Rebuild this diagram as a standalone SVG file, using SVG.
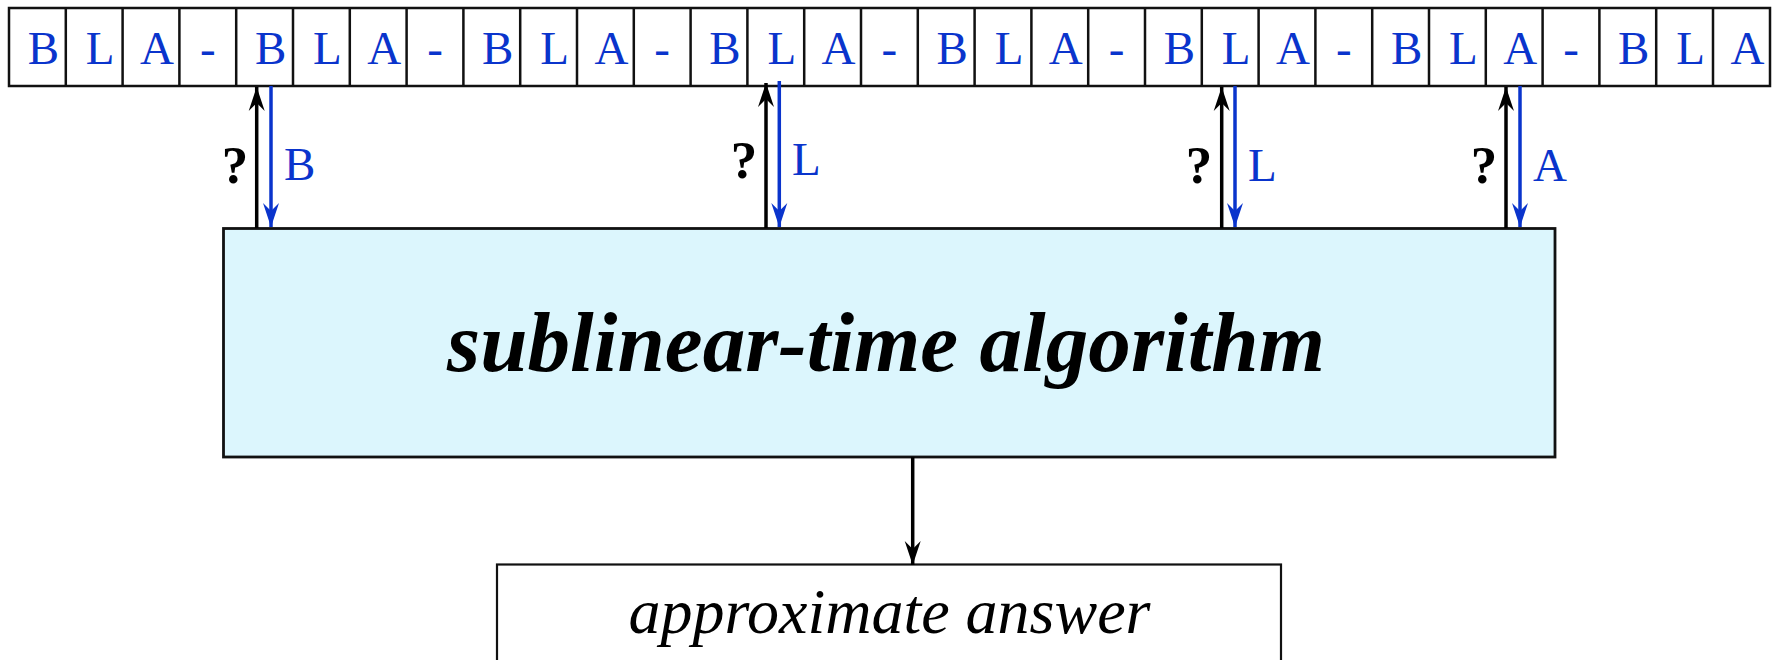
<svg xmlns="http://www.w3.org/2000/svg" width="1777" height="660" viewBox="0 0 1777 660">
<style>
.cell{fill:#ffffff;stroke:#111;stroke-width:2.5}
.ch{font-family:"Liberation Serif",serif;font-size:47px;fill:#0a34cc;text-anchor:middle}
.q{font-family:"Liberation Serif",serif;font-size:53px;font-weight:bold;fill:#000;text-anchor:middle}
.lb{font-family:"Liberation Serif",serif;font-size:47px;fill:#0a34cc}
.up{stroke:#000;stroke-width:3.5;fill:none}
.dn{stroke:#0a34cc;stroke-width:3.5;fill:none}
</style>
<defs>
<marker id="hb" viewBox="-26 -9 28 18" markerWidth="28" markerHeight="18" refX="0" refY="0" orient="auto" markerUnits="userSpaceOnUse">
<path d="M0,0 L-24,-8 L-16,0 L-24,8 z" fill="#000"/>
</marker>
<marker id="hu" viewBox="-26 -9 28 18" markerWidth="28" markerHeight="18" refX="0" refY="0" orient="auto" markerUnits="userSpaceOnUse">
<path d="M0,0 L-24,-8 L-16,0 L-24,8 z" fill="#0a34cc"/>
</marker>
</defs>
<g id="tape">
<rect class="cell" x="9" y="8" width="1761" height="78"/>
<g stroke="#111" stroke-width="2.5">
<path d="M65.8,8V86M122.6,8V86M179.4,8V86M236.2,8V86M293,8V86M349.8,8V86M406.6,8V86M463.4,8V86M520.2,8V86M577,8V86M633.8,8V86M690.6,8V86M747.4,8V86M804.2,8V86M861,8V86M917.8,8V86M974.6,8V86M1031.4,8V86M1088.2,8V86M1145,8V86M1201.8,8V86M1258.6,8V86M1315.4,8V86M1372.2,8V86M1429,8V86M1485.8,8V86M1542.6,8V86M1599.4,8V86M1656.2,8V86M1713,8V86"/>
</g>
<g class="ch">
<text x="43.4" y="64">B</text><text x="100.2" y="64">L</text><text x="157" y="64">A</text><text x="207.8" y="64">-</text>
<text x="270.6" y="64">B</text><text x="327.4" y="64">L</text><text x="384.2" y="64">A</text><text x="435" y="64">-</text>
<text x="497.8" y="64">B</text><text x="554.6" y="64">L</text><text x="611.4" y="64">A</text><text x="662.2" y="64">-</text>
<text x="725" y="64">B</text><text x="781.8" y="64">L</text><text x="838.6" y="64">A</text><text x="889.4" y="64">-</text>
<text x="952.2" y="64">B</text><text x="1009" y="64">L</text><text x="1065.8" y="64">A</text><text x="1116.6" y="64">-</text>
<text x="1179.4" y="64">B</text><text x="1236.2" y="64">L</text><text x="1293" y="64">A</text><text x="1343.8" y="64">-</text>
<text x="1406.6" y="64">B</text><text x="1463.4" y="64">L</text><text x="1520.2" y="64">A</text><text x="1571" y="64">-</text>
<text x="1633.8" y="64">B</text><text x="1690.6" y="64">L</text><text x="1747.4" y="64">A</text>
</g>
</g>
<g id="algorithm">
<rect x="223.5" y="228.5" width="1331.5" height="228.5" fill="#dcf6fd" stroke="#111" stroke-width="2.8"/>
<text x="886" y="371" font-family="Liberation Serif,serif" font-size="85.5" font-weight="bold" font-style="italic" text-anchor="middle" fill="#000" textLength="878" lengthAdjust="spacingAndGlyphs">sublinear-time algorithm</text>
</g>
<g id="answer">
<rect x="497" y="564.5" width="784" height="120" fill="#ffffff" stroke="#111" stroke-width="2.2"/>
<text x="889.5" y="633" font-family="Liberation Serif,serif" font-size="64" font-style="italic" text-anchor="middle" fill="#000">approximate answer</text>
</g>
<g id="connectors">
<line class="up" x1="256.7" y1="228" x2="256.7" y2="87" marker-end="url(#hb)"/>
<line class="dn" x1="271" y1="86" x2="271" y2="227" marker-end="url(#hu)"/>
<line class="up" x1="766" y1="228" x2="766" y2="83" marker-end="url(#hb)"/>
<line class="dn" x1="779.3" y1="81" x2="779.3" y2="227" marker-end="url(#hu)"/>
<line class="up" x1="1221.7" y1="228" x2="1221.7" y2="87" marker-end="url(#hb)"/>
<line class="dn" x1="1235" y1="86" x2="1235" y2="227" marker-end="url(#hu)"/>
<line class="up" x1="1506" y1="228" x2="1506" y2="87" marker-end="url(#hb)"/>
<line class="dn" x1="1520" y1="86" x2="1520" y2="227" marker-end="url(#hu)"/>
<line class="up" x1="912.7" y1="457" x2="912.7" y2="565" marker-end="url(#hb)"/>
<text class="q" x="235" y="183">?</text>
<text class="q" x="744" y="178">?</text>
<text class="q" x="1199" y="183">?</text>
<text class="q" x="1484" y="183">?</text>
<text class="lb" x="284" y="180">B</text>
<text class="lb" x="792" y="175">L</text>
<text class="lb" x="1248" y="181">L</text>
<text class="lb" x="1533" y="181">A</text>
</g>
</svg>
